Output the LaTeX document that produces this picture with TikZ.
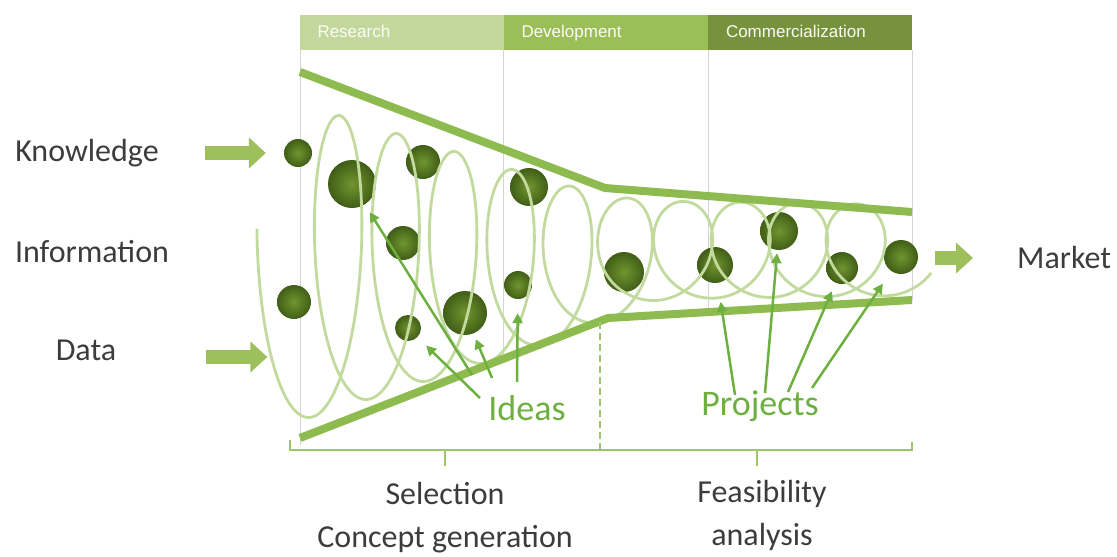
\documentclass[tikz,border=0pt]{standalone}
\usepackage{fontspec}
\setmainfont{Carlito}
\newfontfamily\headfont{Liberation Sans}
\usetikzlibrary{arrows.meta}
\tikzset{>=stealth}

\definecolor{resgreen}{HTML}{C4D89E}
\definecolor{devgreen}{HTML}{9CBE57}
\definecolor{comgreen}{HTML}{76923C}
\definecolor{funnelgreen}{HTML}{8DBB4F}
\definecolor{coilgreen}{HTML}{C2DA9E}
\definecolor{ballin}{HTML}{72942F}
\definecolor{ballout}{HTML}{405E17}
\definecolor{pointgreen}{HTML}{6DB040}
\definecolor{flowgreen}{HTML}{9DC05C}
\definecolor{textgray}{HTML}{3C3C3C}
\definecolor{gridgray}{HTML}{D4D4D4}

\tikzset{
	headbox/.style={minimum height=35pt, inner xsep=18pt, text width=168pt, align=left,
		text height=13pt, text depth=4pt,
		font=\headfont\fontsize{17}{20}\selectfont, text=white!92!resgreen},
	ball/.style={circle, inner sep=0pt, minimum size=#1, shading=radial, inner color=ballin, outer color=ballout},
	flowarrow/.style={line width=14pt, draw=flowgreen, -{Triangle[length=17pt,width=30pt]}},
	pointer/.style={line width=2.5pt, draw=pointgreen, -{Triangle[length=10pt,width=10pt]}},
	label/.style={font=\fontsize{32}{43}\selectfont, text=textgray, inner sep=0pt},
	tag/.style={font=\fontsize{36}{40}\selectfont, text=pointgreen, inner sep=0pt},
	funnel/.style={line width=8pt, draw=funnelgreen, line join=round},
	bracket/.style={line width=2pt, draw=funnelgreen!85}
}

\begin{document}
\begin{tikzpicture}[x=1pt, y=-1pt]
	\useasboundingbox (0,0) rectangle (1117,557);

	% phase columns
	\draw[gridgray] (300,50) -- (300,445);
	\draw[gridgray] (503,50) -- (503,359);
	\draw[gridgray] (708,50) -- (708,312);
	\draw[gridgray] (912,50) -- (912,300);

	% header
	\node[headbox, fill=resgreen] (research) at (401.5,32.5) {Research};
	\node[headbox, fill=devgreen] (develop) at (605.5,32.5) {Development};
	\node[headbox, fill=comgreen] (commerce) at (810,32.5) {Commercialization};

	% ideas and projects
	\foreach \n/\x/\y/\r in {1/298/153/14, 2/352/184/24, 3/423/162/17, 4/403/243/17,
		5/294/302/17, 6/408/328/13, 7/465/313/22, 8/529/187/19, 9/518/285/14,
		10/624/272/20, 11/715/265/18, 12/779/231/19, 13/842/268/16, 14/901/257/17}
		\node[ball=2*\r] (b\n) at (\x,\y) {};

	% the coil, \t in degrees, one turn per 360
	\draw[coilgreen, line width=2.8pt] plot[domain=-12:3750, samples=1200, variable=\t]
		({295 + 57.5*(\t/360) - (37 + 3*min(max(\t/360-4.5,0),2))*cos(\t)},
		 {262 - 6*min(max(\t/360-4.5,0),2) + max(160-18*(\t/360), 54-0.8*(\t/360))*sin(\t)});

	% funnel
	\draw[funnel] (300,72) -- (605,188) -- (912,212);
	\draw[funnel] (300,438) -- (608,318) -- (912,300);

	% inputs and output
	\node[label] (know) at (87,153) {Knowledge};
	\node[label] (info) at (92,252) {Information};
	\node[label] (data) at (86,350) {Data};
	\node[label, anchor=west] (market) at (1017,258) {Market};
	\draw[flowarrow] ([xshift=46pt]know.east) -- ++(61,0);
	\draw[flowarrow] ([xshift=90pt, yshift=-7pt]data.east) -- ++(61,0);
	\draw[flowarrow] ([xshift=-82pt]market.west) -- ++(38,0);

	% pointers
	\node[tag] (ideas) at (527,408) {Ideas};
	\node[tag] (projects) at (760,406) {Projects};
	\foreach \dx/\dy/\n/\s in {-55/-33/2/9, -47/-10/6/12, -35/-30/7/6, -10/-26/9/14}
		\draw[pointer, shorten >=\s pt] ([shift={(\dx,\dy)}]ideas.center) -- (b\n);
	\foreach \dx/\dy/\n/\s in {-25/-11/11/19, 5/-13/12/3, 28/-14/13/9, 52/-18/14/15}
		\draw[pointer, shorten >=\s pt] ([shift={(\dx,\dy)}]projects.center) -- (b\n);

	% stages
	\draw[bracket] (290,440) -- (290,450) -- (912,450) -- (912,442);
	\draw[bracket] (445,450) -- (445,466);
	\draw[bracket] (757,450) -- (757,466);
	\draw[bracket, dash pattern=on 7pt off 4pt] (600,322) -- (600,450);
	\node[label, align=center] (select) at (445,518) {Selection\\Concept generation};
	\node[label, align=center] (feasible) at (762,515) {Feasibility\\analysis};
\end{tikzpicture}
\end{document}
